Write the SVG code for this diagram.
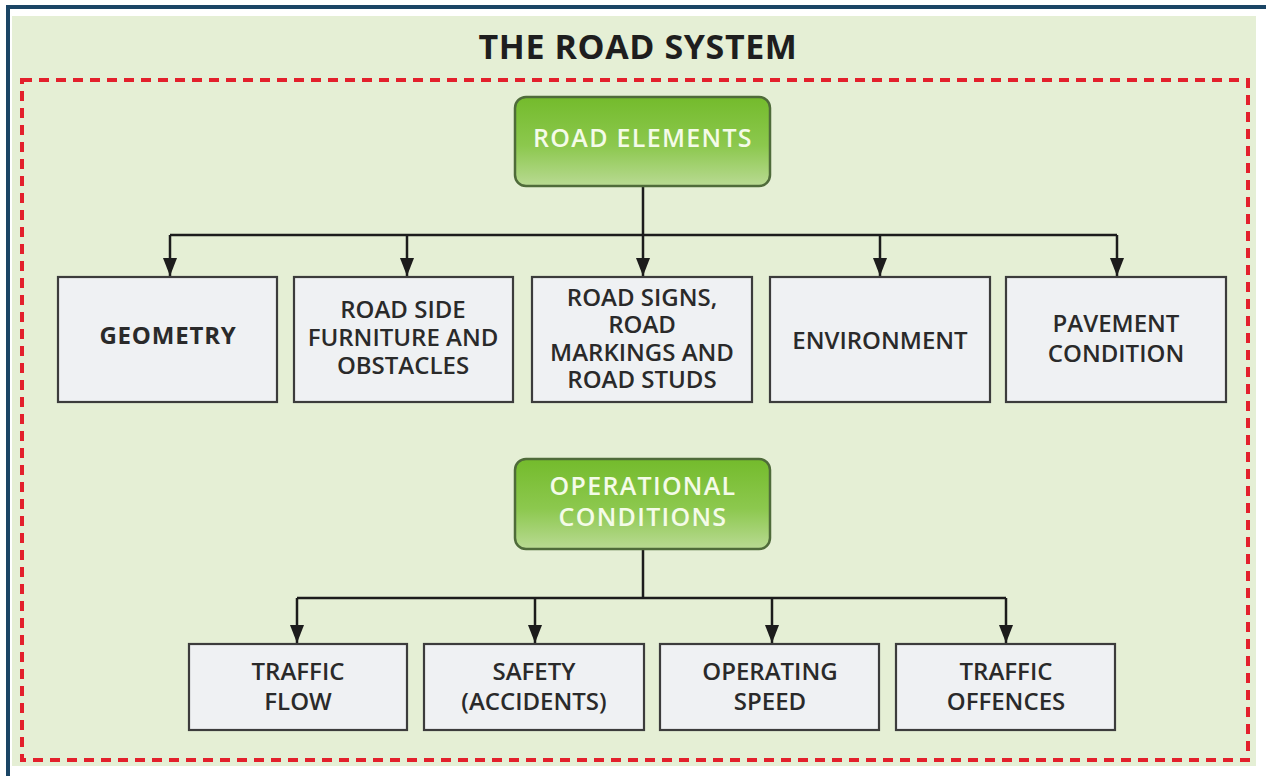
<svg xmlns="http://www.w3.org/2000/svg" width="1266" height="776" viewBox="0 0 1266 776">
  <defs>
    <linearGradient id="greenFill" x1="0" y1="0" x2="0" y2="1">
      <stop offset="0" stop-color="#74bb2c"/>
      <stop offset="0.55" stop-color="#8cc84e"/>
      <stop offset="1" stop-color="#b9da93"/>
    </linearGradient>
    <!-- arrowhead drawn along +x so orient="auto" points it down the line -->
    <marker id="arrow" viewBox="0 0 18 14" refX="18" refY="7" markerWidth="18" markerHeight="14" markerUnits="userSpaceOnUse" orient="auto">
      <path d="M0,0 L18,7 L0,14 Z" fill="#1c1c1c"/>
    </marker>
    <style>
      .frame { fill: #ffffff; }
      .panel { fill: #e5efd5; }
      .dash { fill: none; stroke: #e3202c; stroke-width: 4; stroke-dasharray: 10 7; }
      .head { fill: url(#greenFill); stroke: #4f6b3a; stroke-width: 2.5; }
      .headText { font-family: "Open Sans", "Noto Sans", sans-serif; font-weight: 600; font-size: 25px; letter-spacing: 1.3px; fill: #f4fbe8; text-anchor: middle; }
      .box { fill: #eff1f3; stroke: #3c3c3c; stroke-width: 2.2; }
      .boxText { font-family: "Open Sans", "Noto Sans", sans-serif; font-weight: 600; font-size: 24px; fill: #2a2a2a; text-anchor: middle; }
      .bold { font-weight: 700; letter-spacing: 0.8px; }
      .title { font-family: "Open Sans", "Noto Sans", sans-serif; font-weight: 700; font-size: 34px; letter-spacing: 0.6px; fill: #1e1e1e; text-anchor: middle; }
      .wire { fill: none; stroke: #1c1c1c; stroke-width: 2.5; }
      .drop { fill: none; stroke: #1c1c1c; stroke-width: 2.5; marker-end: url(#arrow); }
    </style>
  </defs>

  <!-- page frame -->
  <rect class="frame" x="0" y="0" width="1266" height="776"/>
  <path d="M8,776 L8,7 L1266,7" fill="none" stroke="#1b4565" stroke-width="4"/>
  <rect class="panel" x="12" y="16" width="1244" height="750"/>
  <text class="title" x="638" y="59">THE ROAD SYSTEM</text>
  <rect class="dash" x="22" y="80" width="1226" height="680"/>

  <!-- connectors -->
  <g id="connectors">
    <path class="wire" d="M643,186 L643,235 M170,235 L1117,235"/>
    <path class="drop" d="M170,235 L170,276"/>
    <path class="drop" d="M407,235 L407,276"/>
    <path class="drop" d="M643,235 L643,276"/>
    <path class="drop" d="M880,235 L880,276"/>
    <path class="drop" d="M1117,235 L1117,276"/>
    <path class="wire" d="M643,549 L643,598 M297,598 L1006,598"/>
    <path class="drop" d="M297,598 L297,643"/>
    <path class="drop" d="M535,598 L535,643"/>
    <path class="drop" d="M772,598 L772,643"/>
    <path class="drop" d="M1006,598 L1006,643"/>
  </g>

  <!-- road elements branch -->
  <g id="road-elements">
    <rect class="head" x="515" y="97" width="255" height="89" rx="11"/>
    <text class="headText" x="643" y="147">ROAD ELEMENTS</text>
  </g>
  <g id="geometry">
    <rect class="box" x="58" y="277" width="219" height="125"/>
    <text class="boxText bold" x="168" y="344">GEOMETRY</text>
  </g>
  <g id="roadside">
    <rect class="box" x="294" y="277" width="219" height="125"/>
    <text class="boxText" x="403" y="318">ROAD SIDE</text>
    <text class="boxText" x="403" y="346">FURNITURE AND</text>
    <text class="boxText" x="403" y="374">OBSTACLES</text>
  </g>
  <g id="signs">
    <rect class="box" x="532" y="277" width="220" height="125"/>
    <text class="boxText" x="642" y="306">ROAD SIGNS,</text>
    <text class="boxText" x="642" y="333">ROAD</text>
    <text class="boxText" x="642" y="361">MARKINGS AND</text>
    <text class="boxText" x="642" y="388">ROAD STUDS</text>
  </g>
  <g id="environment">
    <rect class="box" x="770" y="277" width="220" height="125"/>
    <text class="boxText" x="880" y="349">ENVIRONMENT</text>
  </g>
  <g id="pavement">
    <rect class="box" x="1006" y="277" width="220" height="125"/>
    <text class="boxText" x="1116" y="332">PAVEMENT</text>
    <text class="boxText" x="1116" y="362">CONDITION</text>
  </g>

  <!-- operational branch -->
  <g id="operational">
    <rect class="head" x="515" y="459" width="255" height="90" rx="11"/>
    <text class="headText" x="643" y="495">OPERATIONAL</text>
    <text class="headText" x="643" y="526">CONDITIONS</text>
  </g>
  <g id="traffic-flow">
    <rect class="box" x="189" y="644" width="218" height="86"/>
    <text class="boxText" x="298" y="680">TRAFFIC</text>
    <text class="boxText" x="298" y="710">FLOW</text>
  </g>
  <g id="safety">
    <rect class="box" x="424" y="644" width="220" height="86"/>
    <text class="boxText" x="534" y="680">SAFETY</text>
    <text class="boxText" x="534" y="710">(ACCIDENTS)</text>
  </g>
  <g id="speed">
    <rect class="box" x="660" y="644" width="219" height="86"/>
    <text class="boxText" x="770" y="680">OPERATING</text>
    <text class="boxText" x="770" y="710">SPEED</text>
  </g>
  <g id="offences">
    <rect class="box" x="896" y="644" width="219" height="86"/>
    <text class="boxText" x="1006" y="680">TRAFFIC</text>
    <text class="boxText" x="1006" y="710">OFFENCES</text>
  </g>
</svg>
